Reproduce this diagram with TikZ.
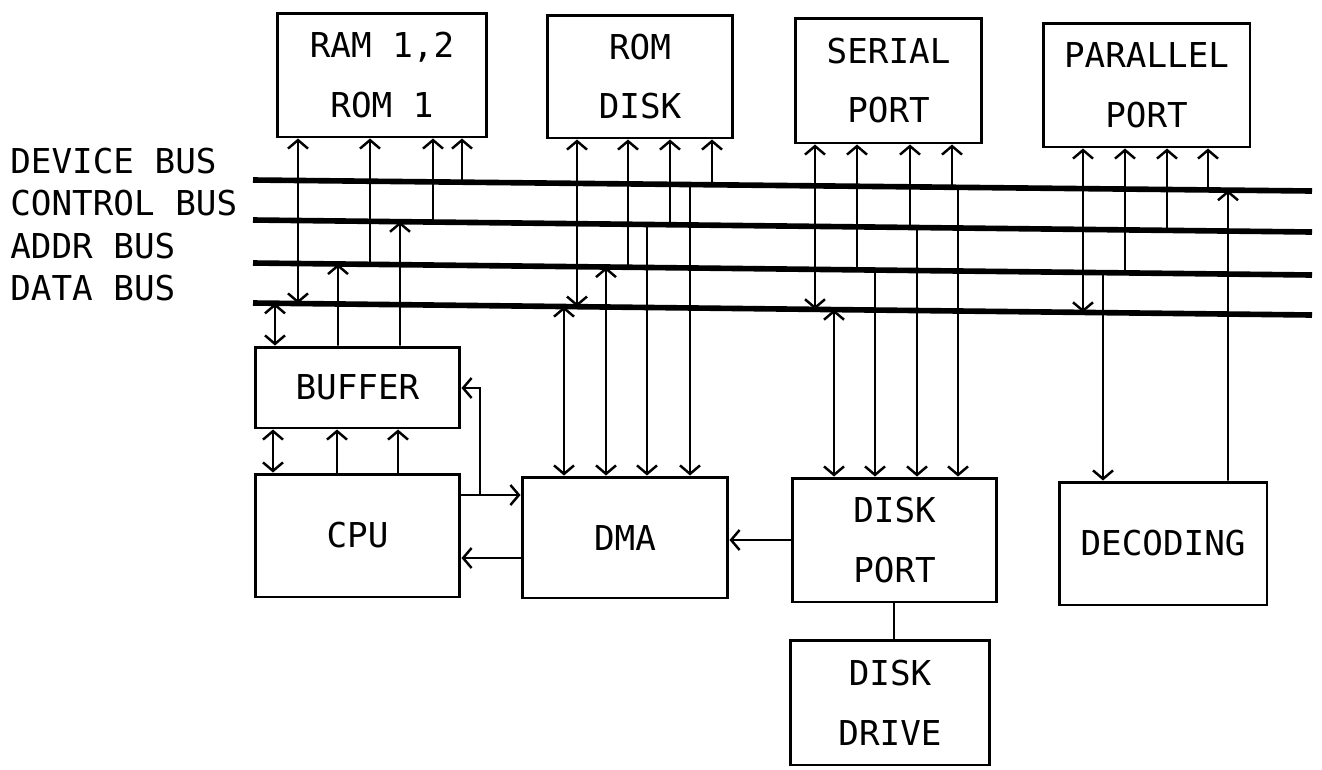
\documentclass[tikz,border=0pt]{standalone}
\usepackage{fontspec}
\setmainfont{DejaVu Sans Mono}
\usetikzlibrary{arrows.meta,calc}
\begin{document}
\begin{tikzpicture}[x=0.02cm,y=-0.02cm,
  box/.style={draw,line width=1.7pt,inner sep=0pt,align=center,font=\fontsize{19.5}{34}\selectfont},
  bus/.style={line width=3.2pt},
  wire/.style={line width=1.1pt},
  >={Straight Barb[length=1.7mm,width=4mm,line width=1.4pt]},
  lab/.style={inner sep=0pt,anchor=west,font=\fontsize{19.5}{24}\selectfont,text height=14.2pt,text depth=0pt}]
\useasboundingbox (0,0) rectangle (1322,769);

% boxes
\node[box,minimum width=4.2cm,minimum height=2.48cm] (ram) at (382,75) {RAM 1,2\\ROM 1};
\node[box,minimum width=3.72cm,minimum height=2.46cm] (rom) at (640,76.5) {ROM\\DISK};
\node[box,minimum width=3.74cm,minimum height=2.5cm] (ser) at (888.5,80.5) {SERIAL\\PORT};
\node[box,minimum width=4.14cm,minimum height=2.48cm] (par) at (1146.5,85) {PARALLEL\\PORT};
\node[box,minimum width=4.1cm,minimum height=1.62cm] (buf) at (357.5,387.5) {BUFFER};
\node[box,minimum width=4.1cm,minimum height=2.46cm] (cpu) at (357.5,535.5) {CPU};
\node[box,minimum width=4.12cm,minimum height=2.42cm] (dma) at (625,537.5) {DMA};
\node[box,minimum width=4.1cm,minimum height=2.48cm] (dport) at (894.5,540) {DISK\\PORT};
\node[box,minimum width=4.16cm,minimum height=2.46cm] (dec) at (1163,543.5) {DECODING};
\node[box,minimum width=4.0cm,minimum height=2.5cm] (ddrive) at (890,702.5) {DISK\\DRIVE};

% bus labels
\node[lab] (ldv) at (10,161) {DEVICE BUS};
\node[lab] (lco) at (10,203) {CONTROL BUS};
\node[lab] (lad) at (10,246) {ADDR BUS};
\node[lab] (lda) at (10,288) {DATA BUS};

% buses
\coordinate (dvL) at (253,180); \coordinate (dvR) at (1312,191);
\coordinate (coL) at (253,220); \coordinate (coR) at (1312,232);
\coordinate (adL) at (253,263); \coordinate (adR) at (1312,275);
\coordinate (daL) at (253,303); \coordinate (daR) at (1312,315);
\draw[bus] (dvL) -- (dvR);
\draw[bus] (coL) -- (coR);
\draw[bus] (adL) -- (adR);
\draw[bus] (daL) -- (daR);

% RAM
\draw[wire,<->] (298,0 |- ram.south) -- ($(daL)!{(298-253)/1059}!(daR)$);
\draw[wire,<-] (370,0 |- ram.south) -- ($(adL)!{(370-253)/1059}!(adR)$);
\draw[wire,<-] (433,0 |- ram.south) -- ($(coL)!{(433-253)/1059}!(coR)$);
\draw[wire,<-] (462,0 |- ram.south) -- ($(dvL)!{(462-253)/1059}!(dvR)$);

% BUFFER to buses
\draw[wire,<->] (275,0 |- buf.north) -- ($(daL)!{(275-253)/1059}!(daR)$);
\draw[wire,->] (338,0 |- buf.north) -- ($(adL)!{(338-253)/1059}!(adR)$);
\draw[wire,->] (400,0 |- buf.north) -- ($(coL)!{(400-253)/1059}!(coR)$);

% BUFFER - CPU
\draw[wire,<->] (273,0 |- buf.south) -- (273,0 |- cpu.north);
\draw[wire,<-] (337,0 |- buf.south) -- (337,0 |- cpu.north);
\draw[wire,<-] (398,0 |- buf.south) -- (398,0 |- cpu.north);

% CPU - DMA
\draw[wire,->] (cpu.east |- 0,495) -- (dma.west |- 0,495);
\coordinate (br) at (480,495);
\draw[wire,->] (br) |- (buf.east |- 0,388);
\draw[wire,->] (dma.west |- 0,558) -- (cpu.east |- 0,558);

% ROM DISK
\draw[wire,<->] (577,0 |- rom.south) -- ($(daL)!{(577-253)/1059}!(daR)$);
\draw[wire,<-] (628,0 |- rom.south) -- ($(adL)!{(628-253)/1059}!(adR)$);
\draw[wire,<-] (670,0 |- rom.south) -- ($(coL)!{(670-253)/1059}!(coR)$);
\draw[wire,<-] (712,0 |- rom.south) -- ($(dvL)!{(712-253)/1059}!(dvR)$);

% DMA
\draw[wire,<->] ($(daL)!{(564-253)/1059}!(daR)$) -- (564,0 |- dma.north);
\draw[wire,<->] ($(adL)!{(606-253)/1059}!(adR)$) -- (606,0 |- dma.north);
\draw[wire,->] ($(coL)!{(647-253)/1059}!(coR)$) -- (647,0 |- dma.north);
\draw[wire,->] ($(dvL)!{(690-253)/1059}!(dvR)$) -- (690,0 |- dma.north);

% SERIAL PORT
\draw[wire,<->] (815,0 |- ser.south) -- ($(daL)!{(815-253)/1059}!(daR)$);
\draw[wire,<-] (857,0 |- ser.south) -- ($(adL)!{(857-253)/1059}!(adR)$);
\draw[wire,<-] (910,0 |- ser.south) -- ($(coL)!{(910-253)/1059}!(coR)$);
\draw[wire,<-] (952,0 |- ser.south) -- ($(dvL)!{(952-253)/1059}!(dvR)$);

% DISK PORT
\draw[wire,<->] ($(daL)!{(834-253)/1059}!(daR)$) -- (834,0 |- dport.north);
\draw[wire,->] ($(adL)!{(875-253)/1059}!(adR)$) -- (875,0 |- dport.north);
\draw[wire,->] ($(coL)!{(917-253)/1059}!(coR)$) -- (917,0 |- dport.north);
\draw[wire,->] ($(dvL)!{(958-253)/1059}!(dvR)$) -- (958,0 |- dport.north);
\draw[wire,->] (dport.west |- 0,540) -- (dma.east |- 0,540);
\draw[wire] (894,0 |- dport.south) -- (894,0 |- ddrive.north);

% PARALLEL PORT
\draw[wire,<->] (1083,0 |- par.south) -- ($(daL)!{(1083-253)/1059}!(daR)$);
\draw[wire,<-] (1125,0 |- par.south) -- ($(adL)!{(1125-253)/1059}!(adR)$);
\draw[wire,<-] (1167,0 |- par.south) -- ($(coL)!{(1167-253)/1059}!(coR)$);
\draw[wire,<-] (1208,0 |- par.south) -- ($(dvL)!{(1208-253)/1059}!(dvR)$);

% DECODING
\draw[wire,->] ($(adL)!{(1103-253)/1059}!(adR)$) -- (1103,0 |- dec.north);
\draw[wire,->] (1228,0 |- dec.north) -- ($(dvL)!{(1228-253)/1059}!(dvR)$);
\end{tikzpicture}
\end{document}
